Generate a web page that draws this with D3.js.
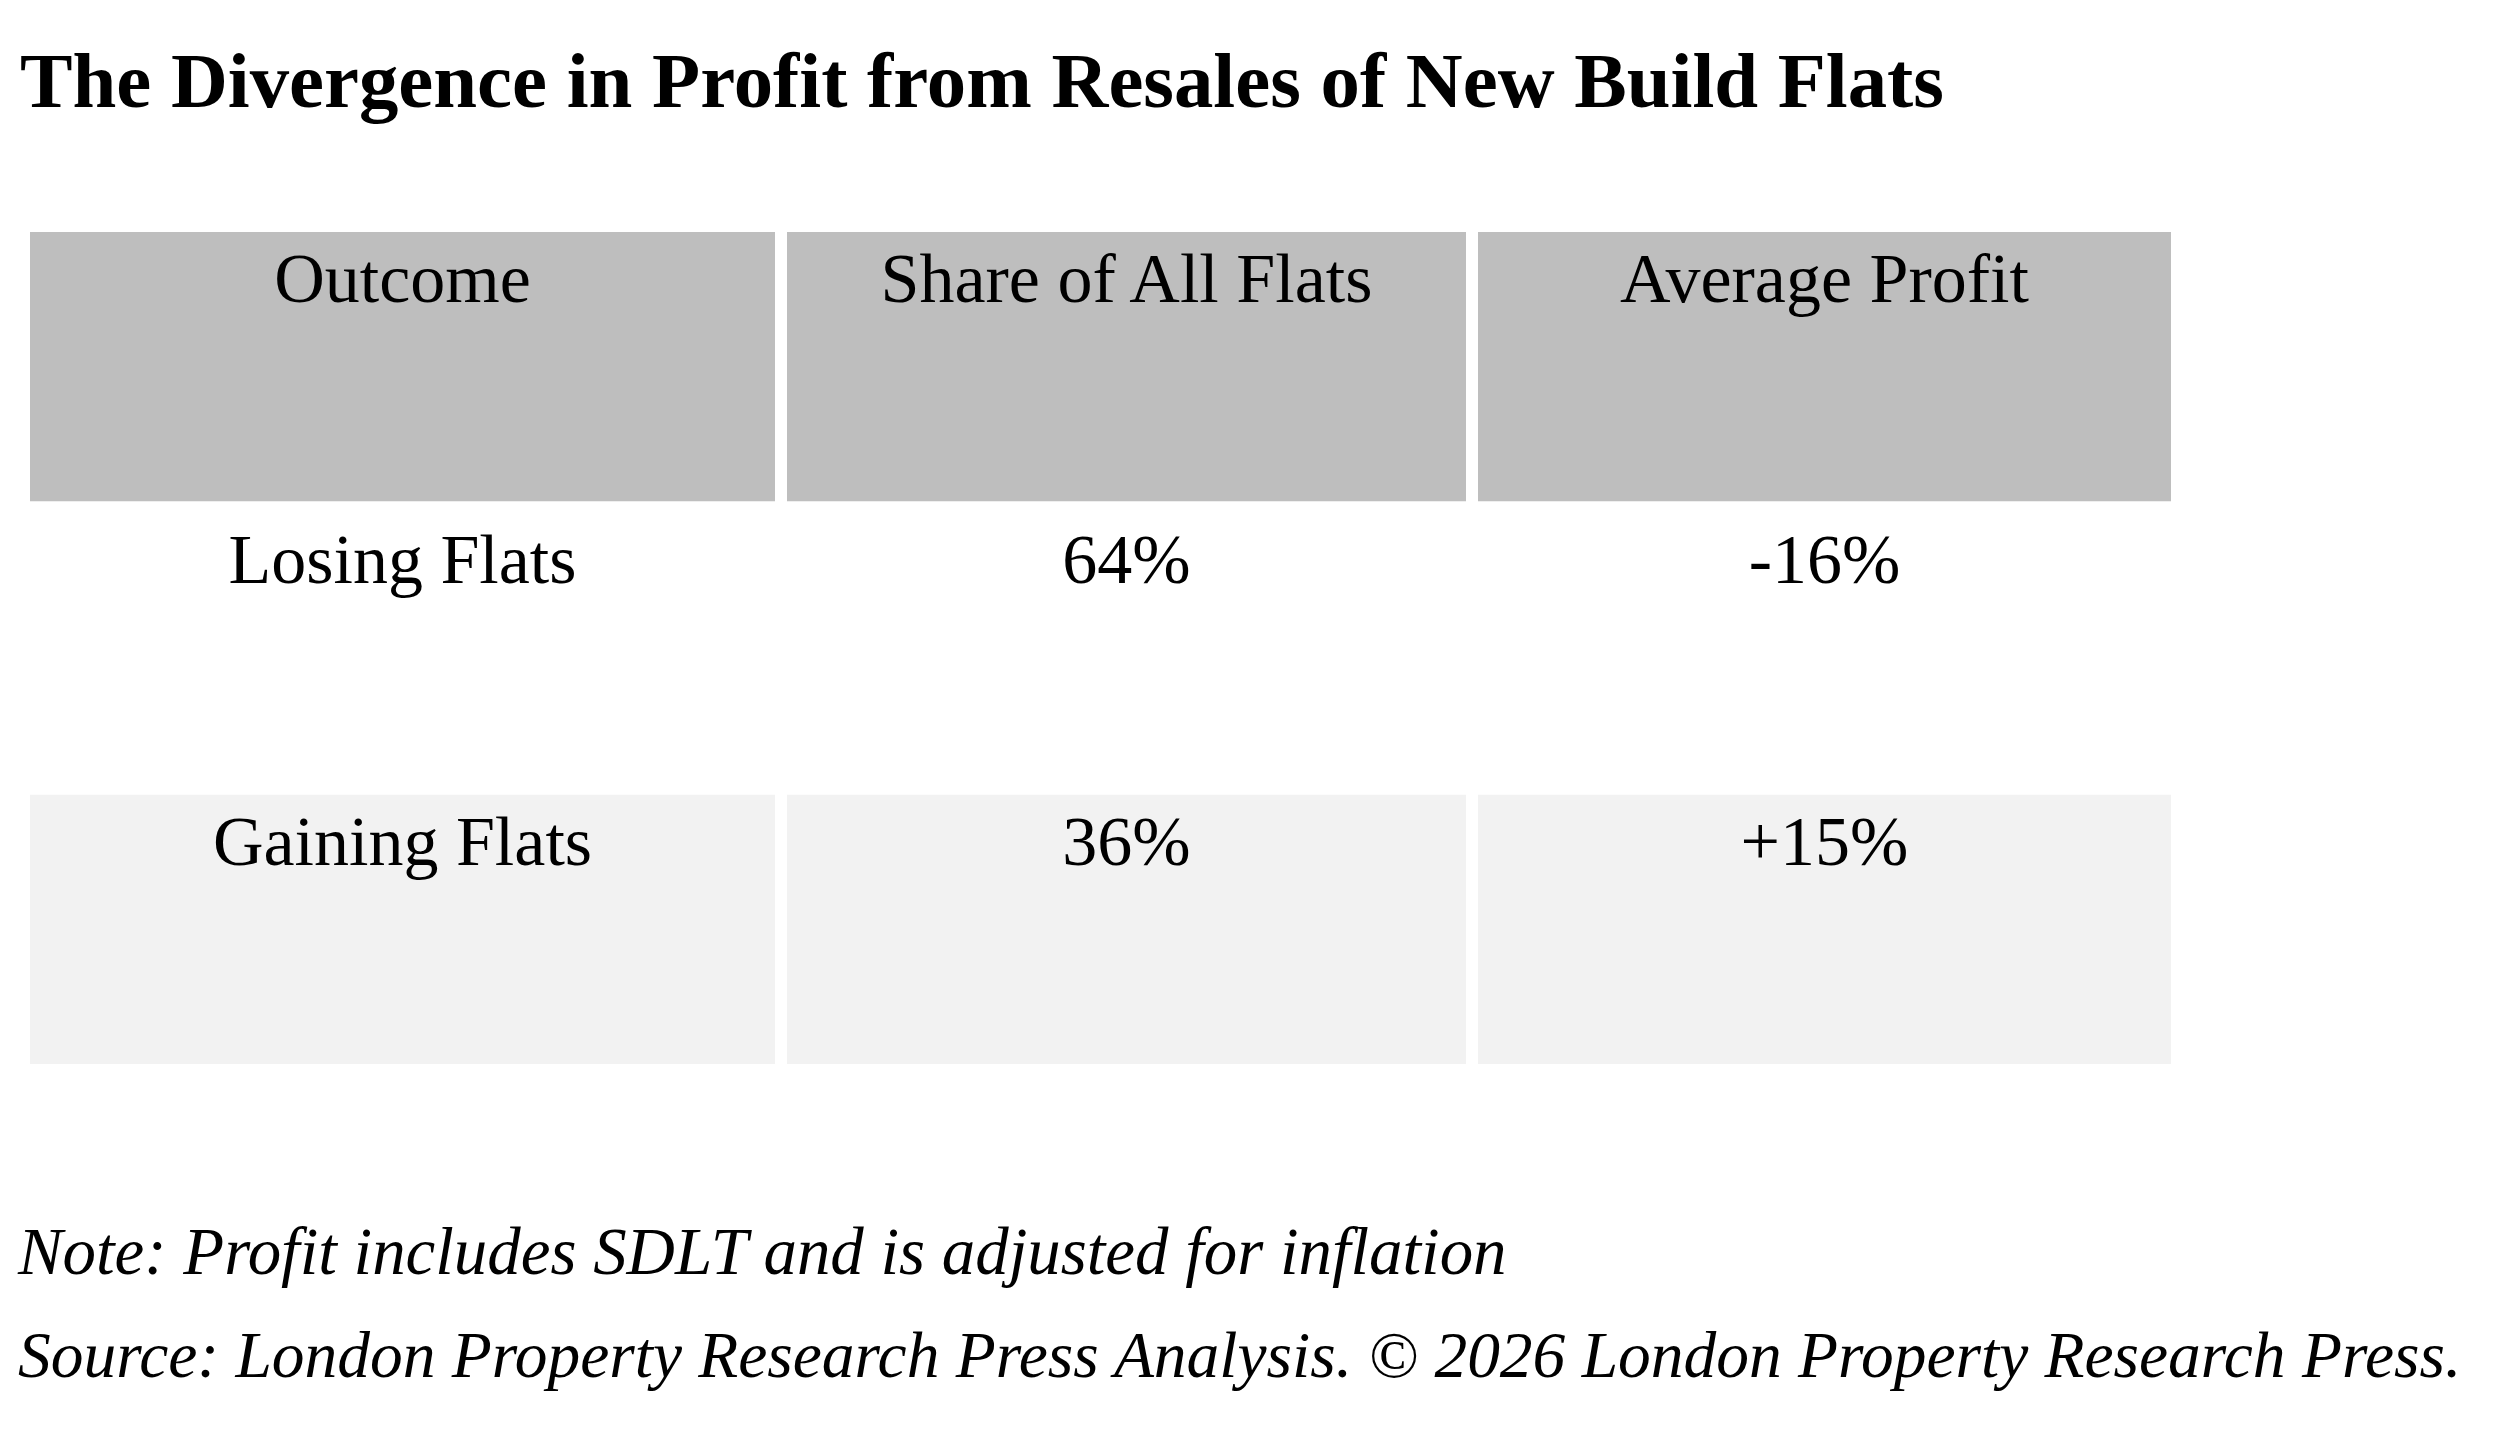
<!DOCTYPE html>
<html>
<head>
<meta charset="utf-8">
<script src="https://cdn.jsdelivr.net/npm/d3@7"></script>
<style>
  body { margin: 0; background: #fff; }
  svg { display: block; }
</style>
</head>
<body>
<div id="chart"></div>
<script>
// table content
const title = "The Divergence in Profit from Resales of New Build Flats";
const columns = ["Outcome", "Share of All Flats", "Average Profit"];
const outcomes = ["Losing Flats", "Gaining Flats"];
const shareOfFlats = [64, 36];
const averageProfit = [-16, 15];
const notes = [
    "Note: Profit includes SDLT and is adjusted for inflation",
    "Source: London Property Research Press Analysis. \u00A9 2026 London Property Research Press."
];

let W = 2500, H = 1453;
let font = "'Liberation Serif', 'Times New Roman', serif";
let colWidths = [745, 679, 693]; //widths of the three columns
let colGap = 12;
let rowFills = ["#bebebe", "#ffffff", "#f2f2f2"];

let svg = d3.select("#chart")
    .append("svg")
    .attr("width", W)
    .attr("height", H)
    .style("font-family", font);

//Rows: header + one per outcome
let rows = [columns].concat(outcomes.map(function (o, i) {
    let sign = averageProfit[i] > 0 ? "+" : "";
    return [o, shareOfFlats[i] + "%", sign + averageProfit[i] + "%"];
}));

let y = d3.scaleBand()
    .domain(d3.range(rows.length))
    .range([232, 1064])
    .paddingInner(0.043);

//Column left edges
let colX = [];
colWidths.reduce(function (acc, w) { colX.push(acc); return acc + w + colGap; }, 30);

//Shrink text to a width if it is wider than that
function fitWidth(sel, target) {
    sel.each(function () {
        let t = d3.select(this);
        let size = parseFloat(t.style("font-size"));
        let len = this.getComputedTextLength();
        t.style("font-size", (size * target / len) + "px");
    });
}

//Title
svg.append("text")
    .attr("x", 20)
    .attr("y", 107)
    .style("font-size", "72px")
    .style("font-weight", "bold")
    .attr("fill", "#000")
    .text(title)
    .call(fitWidth, 1924);

//Cells
let rowG = svg.selectAll(".row")
    .data(rows)
    .enter()
    .append("g")
    .attr("class", "row")
    .attr("transform", function (d, i) { return "translate(0," + y(i) + ")"; });

let cell = rowG.selectAll(".cell")
    .data(function (d, i) { return d.map(function (v) { return { v: v, r: i }; }); })
    .enter()
    .append("g")
    .attr("class", "cell");

cell.append("rect")
    .attr("x", function (d, j) { return colX[j]; })
    .attr("y", 0)
    .attr("width", function (d, j) { return colWidths[j]; })
    .attr("height", y.bandwidth())
    .attr("fill", function (d) { return rowFills[d.r]; });

cell.append("text")
    .attr("x", function (d, j) { return colX[j] + colWidths[j] / 2; })
    .attr("y", 70)
    .attr("text-anchor", "middle")
    .style("font-size", "70px")
    .attr("fill", "#000")
    .text(function (d) { return d.v; });

//Notes
let noteWidths = [1489, 2444];
svg.selectAll(".note")
    .data(notes)
    .enter()
    .append("text")
    .attr("class", "note")
    .attr("x", 18)
    .attr("y", function (d, i) { return 1274 + i * 103; })
    .style("font-size", "70px")
    .style("font-style", "italic")
    .attr("fill", "#000")
    .text(function (d) { return d; })
    .each(function (d, i) { d3.select(this).call(fitWidth, noteWidths[i]); });
</script>
</body>
</html>
